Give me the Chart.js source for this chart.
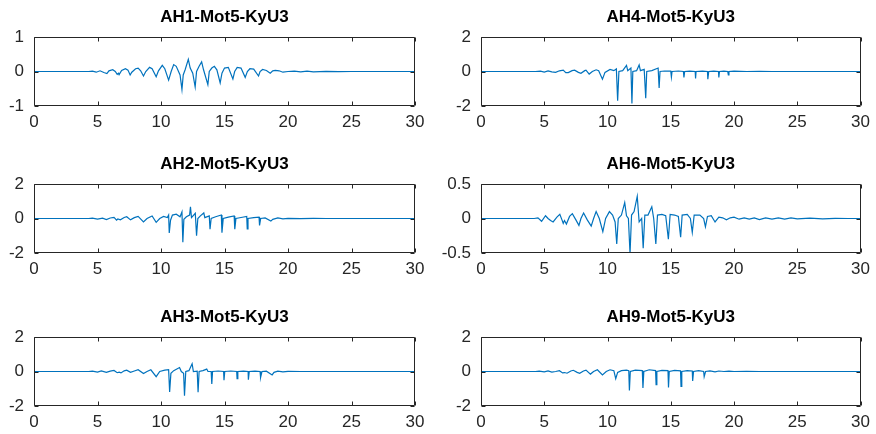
<!DOCTYPE html>
<html><head><meta charset="utf-8">
<script src="https://cdn.jsdelivr.net/npm/chart.js@4/dist/chart.umd.min.js"></script>
<style>
html,body{margin:0;padding:0;background:#fff;}
body{width:876px;height:434px;position:relative;overflow:hidden;}
.p{position:absolute;}
</style></head><body>
<div class="p" id="w0"><canvas id="c0"></canvas></div>
<div class="p" id="w1"><canvas id="c1"></canvas></div>
<div class="p" id="w2"><canvas id="c2"></canvas></div>
<div class="p" id="w3"><canvas id="c3"></canvas></div>
<div class="p" id="w4"><canvas id="c4"></canvas></div>
<div class="p" id="w5"><canvas id="c5"></canvas></div>
<script>
// ---- data ----
const xTicks = [0, 5, 10, 15, 20, 25, 30];
const xTickLabels = ['0', '5', '10', '15', '20', '25', '30'];

const titleAH1 = 'AH1-Mot5-KyU3';
const titleAH4 = 'AH4-Mot5-KyU3';
const titleAH2 = 'AH2-Mot5-KyU3';
const titleAH6 = 'AH6-Mot5-KyU3';
const titleAH3 = 'AH3-Mot5-KyU3';
const titleAH9 = 'AH9-Mot5-KyU3';

const yTicksAH1 = [-1, 0, 1];
const yTickLabelsAH1 = ['-1', '0', '1'];
const yTicksAH4 = [-2, 0, 2];
const yTickLabelsAH4 = ['-2', '0', '2'];
const yTicksAH2 = [-2, 0, 2];
const yTickLabelsAH2 = ['-2', '0', '2'];
const yTicksAH6 = [-0.5, 0, 0.5];
const yTickLabelsAH6 = ['-0.5', '0', '0.5'];
const yTicksAH3 = [-2, 0, 2];
const yTickLabelsAH3 = ['-2', '0', '2'];
const yTicksAH9 = [-2, 0, 2];
const yTickLabelsAH9 = ['-2', '0', '2'];

const timeAH1 = [0,4.3,4.6,4.9,5.2,5.5,5.74,5.9,6.2,6.4,6.55,6.65,6.7,6.9,7.2,7.4,7.57,7.7,8.0,8.2,8.4,8.62,8.8,9.1,9.3,9.62,9.8,10.1,10.3,10.6,10.8,11.0,11.2,11.5,11.65,11.75,11.9,12.15,12.3,12.5,12.69,12.8,13.0,13.2,13.35,13.69,13.8,14.0,14.2,14.4,14.66,14.8,15.0,15.3,15.66,15.8,16.0,16.3,16.63,16.8,17.0,17.3,17.68,17.8,18.0,18.3,18.6,18.8,19.0,19.3,19.6,20,20.5,21,21.5,22,23,24,25,30];
const valAH1 = [0,0,0.01,-0.02,0.02,-0.03,-0.06,0.02,0.05,0.0,-0.08,-0.05,-0.09,0.03,0.08,0.04,-0.1,-0.02,0.08,0.1,0.02,-0.13,0.0,0.12,0.08,-0.15,0.02,0.18,0.08,-0.25,0.0,0.2,0.15,-0.1,-0.52,-0.1,0.05,0.35,0.1,-0.05,-0.45,0.0,0.15,0.28,0.05,-0.38,0.0,0.1,0.15,0.05,-0.33,-0.05,0.1,0.12,-0.22,0.0,0.12,0.1,-0.17,0.0,0.08,0.07,-0.13,0.0,0.06,0.03,-0.05,0.02,0.03,0.02,-0.02,0.0,0.01,-0.01,0.01,-0.01,0.005,-0.005,0,0];

const timeAH4 = [0,4.3,4.7,5.0,5.3,5.6,5.9,6.2,6.5,6.7,6.9,7.2,7.4,7.7,7.9,8.2,8.3,8.55,8.8,9.1,9.3,9.6,9.8,10.2,10.5,10.7,10.8,10.9,11.2,11.5,11.6,11.85,11.93,12.0,12.3,12.5,12.6,12.9,13.02,13.1,13.5,14.0,14.08,14.15,14.5,15.0,15.05,15.1,15.6,16.0,16.04,16.1,16.5,16.93,16.96,17.0,17.5,17.9,17.93,18.0,18.4,18.77,18.8,18.85,19.2,19.5,19.55,19.6,20,21,22,23,30];
const valAH4 = [0,0,0.02,-0.03,0.03,-0.02,-0.05,0.04,0.08,-0.07,-0.06,0.05,0.08,-0.05,-0.1,0.05,0.08,-0.15,0.0,0.1,0.05,-0.45,-0.05,0.12,0.05,0.15,-1.7,0.0,0.05,0.35,0.05,0.2,-1.85,0.0,0.05,0.38,0.05,0.12,-1.55,0.0,0.05,0.2,-0.95,0.0,0.03,0.02,-0.32,0.0,0.03,0.0,-0.35,0.0,0.02,0.0,-0.4,0.0,0.02,0.0,-0.45,0.0,0.02,0.0,-0.35,0.0,0.02,0.0,-0.2,0.0,0.02,0.0,0.01,0,0];

const timeAH2 = [0,4.3,4.6,5.0,5.4,5.7,6.0,6.3,6.5,6.6,6.8,7.1,7.3,7.6,7.9,8.2,8.62,8.9,9.3,9.62,9.9,10.2,10.5,10.6,10.65,10.75,10.9,11.2,11.5,11.65,11.72,11.8,12.0,12.25,12.32,12.4,12.7,12.8,12.9,13.1,13.37,13.45,13.8,13.86,13.95,14.3,14.75,14.8,14.9,15.3,15.76,15.81,15.9,16.3,16.75,16.79,16.85,17.3,17.72,17.76,17.85,18.2,18.65,18.8,19.2,19.6,20,21,22,23,30];
const valAH2 = [0,0,0.02,-0.03,0.02,-0.06,0.03,0.06,-0.1,-0.03,-0.08,0.06,0.1,-0.08,0.05,0.12,-0.2,0.0,0.15,-0.22,0.0,0.12,0.05,0.2,-0.84,-0.1,0.2,0.25,0.1,0.38,-1.37,-0.05,0.1,0.2,0.68,0.05,0.3,-1.0,0.0,0.15,0.32,0.05,0.15,-0.62,0.0,0.1,0.2,-0.82,0.0,0.08,0.15,-0.62,0.0,0.06,0.12,-0.6,0.0,0.05,0.08,-0.4,0.0,0.03,-0.15,-0.05,0.03,-0.02,0.01,-0.01,0.01,0,0];

const timeAH6 = [0,4.2,4.5,4.79,5.1,5.3,5.5,5.7,6.0,6.23,6.4,6.5,6.6,6.75,7.0,7.22,7.5,7.74,7.9,8.11,8.4,8.71,8.9,9.1,9.35,9.63,9.85,10.15,10.4,10.6,10.73,10.85,11.1,11.36,11.5,11.65,11.78,11.9,12.1,12.35,12.5,12.7,12.82,12.95,13.2,13.5,13.65,13.82,13.95,14.3,14.6,14.81,14.95,15.3,15.6,15.78,15.9,16.3,16.55,16.7,16.85,17.3,17.6,17.74,17.9,18.2,18.5,18.8,19.1,19.4,19.7,20.0,20.4,20.8,21.2,21.6,22,22.5,23,23.5,24,24.5,25,26,27,28,29,30];
const valAH6 = [0,0,0.01,-0.04,0.04,0.0,-0.03,-0.05,0.02,0.06,-0.02,-0.07,-0.03,-0.08,0.03,0.07,-0.02,-0.1,0.0,0.08,-0.02,-0.11,0.0,0.1,0.0,-0.19,0.0,0.1,0.05,-0.05,-0.37,0.0,0.05,0.23,0.04,0.0,-0.51,0.05,0.1,0.32,-0.05,0.0,-0.43,0.05,0.05,0.17,0.0,-0.37,0.05,0.06,0.04,-0.3,0.06,0.05,0.03,-0.27,0.05,0.06,0.0,-0.2,0.05,0.05,0.0,-0.12,0.03,0.04,-0.05,0.02,0.01,-0.02,0.01,0.02,-0.01,0.01,-0.01,0.01,-0.015,0.01,-0.01,0.008,-0.008,0.008,-0.005,0.005,-0.004,0.003,0,0];

const timeAH3 = [0,4.3,4.6,5.0,5.3,5.7,6.0,6.3,6.55,6.7,6.85,7.1,7.3,7.6,7.9,8.2,8.62,8.9,9.2,9.62,9.9,10.3,10.6,10.68,10.78,11.0,11.46,11.6,11.78,11.85,11.95,12.2,12.45,12.55,12.85,12.92,13.0,13.3,13.6,13.7,13.95,14.0,14.06,14.5,14.93,14.96,15.02,15.5,15.96,15.99,16.05,16.5,16.86,16.88,16.95,17.4,17.8,17.84,17.95,18.3,18.75,18.9,19.2,19.6,20,21,30];
const valAH3 = [0,0,0.02,-0.03,0.03,-0.05,0.02,0.06,-0.07,-0.04,-0.08,0.04,0.08,-0.05,0.03,0.1,-0.12,0.0,0.1,-0.3,0.0,0.08,0.1,-1.18,-0.1,0.05,0.23,0.0,-0.1,-1.4,0.0,0.05,0.45,0.0,0.02,-1.2,0.0,0.05,0.14,0.0,0.0,-0.72,0.0,0.03,0.0,-0.5,0.0,0.03,0.0,-0.42,0.0,0.02,0.0,-0.48,0.0,0.02,0.0,-0.35,0.0,0.02,-0.2,-0.05,0.02,-0.02,0.01,0,0];

const timeAH9 = [0,4.3,4.6,5.0,5.3,5.6,5.9,6.2,6.45,6.6,6.8,7.1,7.3,7.6,7.8,8.1,8.3,8.65,8.9,9.2,9.6,9.9,10.2,10.5,10.65,10.8,11.1,11.5,11.68,11.73,11.8,12.2,12.75,12.8,12.87,13.3,13.8,13.84,13.9,14.3,14.78,14.82,14.88,15.3,15.77,15.81,15.87,16.3,16.7,16.73,16.8,17.2,17.6,17.64,17.75,18.1,18.5,18.8,19.2,19.6,20,21,22,30];
const valAH9 = [0,0,0.02,-0.02,0.03,-0.03,0.0,0.05,-0.08,-0.06,-0.1,0.03,0.07,-0.05,-0.1,0.03,0.08,-0.15,0.0,0.1,-0.2,0.0,0.1,0.05,-0.42,-0.05,0.05,0.08,0.05,-1.1,0.0,0.08,0.05,-0.96,0.0,0.1,0.05,-0.76,0.0,0.07,0.05,-0.93,0.0,0.06,0.04,-0.87,0.0,0.05,0.03,-0.55,0.0,0.05,0.0,-0.3,0.0,0.04,-0.02,0.03,0.0,0.02,0.0,0.01,0,0];

// ---- layout & style ----
const FONT = '"Liberation Sans", Arial, Helvetica, sans-serif';
const LINE_COLOR = '#0072BD';
const AXIS_COLOR = '#262626';

const panels = [
  {title: titleAH1, t: timeAH1, v: valAH1, yt: yTicksAH1, yl: yTickLabelsAH1, left: 0,   top: 0,   width: 436, yW: 34, padR: 21},
  {title: titleAH4, t: timeAH4, v: valAH4, yt: yTicksAH4, yl: yTickLabelsAH4, left: 436, top: 0,   width: 440, yW: 45, padR: 13},
  {title: titleAH2, t: timeAH2, v: valAH2, yt: yTicksAH2, yl: yTickLabelsAH2, left: 0,   top: 147, width: 436, yW: 34, padR: 21},
  {title: titleAH6, t: timeAH6, v: valAH6, yt: yTicksAH6, yl: yTickLabelsAH6, left: 436, top: 147, width: 440, yW: 45, padR: 13},
  {title: titleAH3, t: timeAH3, v: valAH3, yt: yTicksAH3, yl: yTickLabelsAH3, left: 0,   top: 300, width: 436, yW: 34, padR: 21},
  {title: titleAH9, t: timeAH9, v: valAH9, yt: yTicksAH9, yl: yTickLabelsAH9, left: 436, top: 300, width: 440, yW: 45, padR: 13}
];
const TITLE_AREA = 37, PLOT_H = 69, XAXIS_H = 30, TICK_LEN = 4;
const TITLE_SIZE = 17;

const boxPlugin = {
  id: 'matlabBox',
  afterDatasetsDraw(chart) {
    const ctx = chart.ctx, a = chart.chartArea;
    const xs = chart.scales.x, ys = chart.scales.y;
    const L = Math.round(a.left) + 0.5, R = Math.round(a.right) - 0.5;
    const T = Math.round(a.top) + 0.5, B = Math.round(a.bottom) - 0.5;
    ctx.save();
    ctx.strokeStyle = AXIS_COLOR;
    ctx.lineWidth = 1;
    ctx.beginPath();
    ctx.rect(L, T, R - L, B - T);
    xs.ticks.forEach(tk => {
      const px = Math.round(xs.getPixelForValue(tk.value)) + 0.5;
      ctx.moveTo(px, B); ctx.lineTo(px, B - TICK_LEN);
      ctx.moveTo(px, T); ctx.lineTo(px, T + TICK_LEN);
    });
    ys.ticks.forEach(tk => {
      const py = Math.round(ys.getPixelForValue(tk.value)) + 0.5;
      ctx.moveTo(L, py); ctx.lineTo(L + TICK_LEN, py);
      ctx.moveTo(R, py); ctx.lineTo(R - TICK_LEN, py);
    });
    ctx.stroke();
    ctx.restore();
  }
};

panels.forEach((p, i) => {
  const w = document.getElementById('w' + i);
  const h = TITLE_AREA + PLOT_H + XAXIS_H;
  w.style.left = p.left + 'px';
  w.style.top = p.top + 'px';
  w.style.width = p.width + 'px';
  w.style.height = h + 'px';
  const pts = p.t.map((x, k) => ({x: x, y: p.v[k]}));
  const ymin = p.yt[0], ymax = p.yt[p.yt.length - 1];
  new Chart(document.getElementById('c' + i), {
    type: 'line',
    data: {datasets: [{data: pts, borderColor: LINE_COLOR, borderWidth: 1.2, pointRadius: 0, fill: false, tension: 0}]},
    options: {
      responsive: true, maintainAspectRatio: false, animation: false, devicePixelRatio: 1,
      layout: {padding: {left: 0, right: p.padR, top: 0, bottom: 0}},
      plugins: {
        legend: {display: false},
        tooltip: {enabled: false},
        title: {display: true, fullSize: false, text: p.title, color: '#000', font: {family: FONT, size: TITLE_SIZE, weight: 'bold'}, padding: {top: 7, bottom: TITLE_AREA - 7 - TITLE_SIZE * 1.2}}
      },
      scales: {
        x: {
          type: 'linear', min: 0, max: 30,
          afterBuildTicks: s => { s.ticks = xTicks.map(v => ({value: v})); },
          afterFit: s => { s.height = XAXIS_H; },
          ticks: {callback: v => xTickLabels[xTicks.indexOf(v)], color: AXIS_COLOR, font: {family: FONT, size: 17}, padding: 6, maxRotation: 0, autoSkip: false},
          grid: {display: false, drawTicks: false}, border: {display: false}
        },
        y: {
          type: 'linear', min: ymin, max: ymax,
          afterBuildTicks: s => { s.ticks = p.yt.map(v => ({value: v})); },
          afterFit: s => { s.width = p.yW; },
          ticks: {callback: v => p.yl[p.yt.indexOf(v)], color: AXIS_COLOR, font: {family: FONT, size: 17}, padding: 10, autoSkip: false},
          grid: {display: false, drawTicks: false}, border: {display: false}
        }
      }
    },
    plugins: [boxPlugin]
  });
});
</script>
</body></html>
